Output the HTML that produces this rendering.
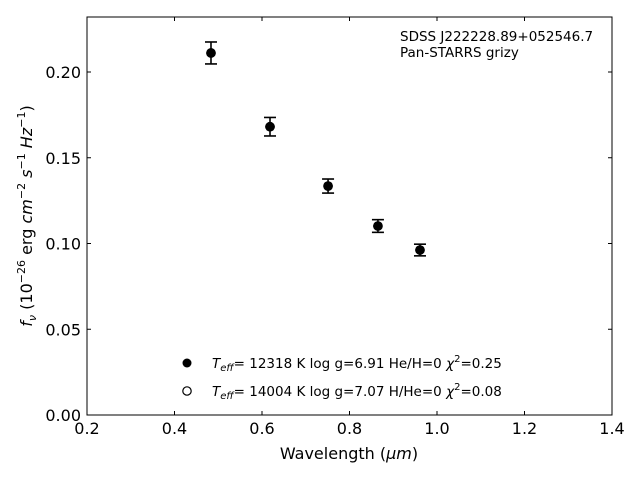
<!DOCTYPE html>
<html><head><meta charset="utf-8"><style>
body{margin:0;background:#fff}
svg{display:block;font-family:"DejaVu Sans","Liberation Sans",sans-serif}
</style></head><body>
<svg id="chart" width="640" height="480" viewBox="0 0 640 480" xmlns="http://www.w3.org/2000/svg">
<rect x="0" y="0" width="640" height="480" fill="#fff"/>
<g id="plot"></g>
<rect x="87" y="17" width="525" height="398" fill="none" stroke="#000" stroke-width="1"/>
<g id="xticks"></g>
<g id="yticks"></g>
<text x="349" y="459" font-size="16" text-anchor="middle">Wavelength (<tspan font-style="italic">μ</tspan><tspan font-style="italic">m</tspan>)</text>
<text transform="translate(32,216) rotate(-90)" font-size="16" text-anchor="middle"><tspan font-style="italic">f</tspan><tspan font-style="italic" font-size="11" dy="4">ν</tspan><tspan dy="-4"> (10</tspan><tspan font-size="11" dy="-7">−26</tspan><tspan dy="7"> erg </tspan><tspan font-style="italic">cm</tspan><tspan font-size="11" dy="-7">−2</tspan><tspan dy="7" font-style="italic"> s</tspan><tspan font-size="11" dy="-7">−1</tspan><tspan dy="7" font-style="italic"> Hz</tspan><tspan font-size="11" dy="-7">−1</tspan><tspan dy="7">)</tspan></text>
<text x="400" y="41" font-size="13.5">SDSS J222228.89+052546.7</text>
<text x="400" y="57" font-size="13.5">Pan-STARRS grizy</text>
<g>
<circle cx="187" cy="363" r="4.5" fill="#000"/>
<text x="212" y="368" font-size="13.5"><tspan font-style="italic">T</tspan><tspan font-style="italic" font-size="10" dy="3">eff</tspan><tspan dy="-3">= 12318 K  log g=6.91  He/H=0  </tspan><tspan font-style="italic">χ</tspan><tspan font-size="10" dy="-6">2</tspan><tspan dy="6">=0.25</tspan></text>
<circle cx="187" cy="391" r="4.2" fill="#fff" stroke="#000" stroke-width="1.2"/>
<text x="212" y="396" font-size="13.5"><tspan font-style="italic">T</tspan><tspan font-style="italic" font-size="10" dy="3">eff</tspan><tspan dy="-3">= 14004 K  log g=7.07  H/He=0  </tspan><tspan font-style="italic">χ</tspan><tspan font-size="10" dy="-6">2</tspan><tspan dy="6">=0.08</tspan></text>
</g>
</svg>
<script>
const wavelengths=[0.4834,0.6183,0.7510,0.8650,0.9611];
const fluxObs=[0.2111,0.1681,0.1335,0.1102,0.0962];
const fluxErr=[0.0064,0.0054,0.0041,0.0037,0.0034];
const fluxModel=[0.2111,0.1681,0.1335,0.1102,0.0962];
const xTickLabels=["0.2","0.4","0.6","0.8","1.0","1.2","1.4"];
const yTickLabels=["0.00","0.05","0.10","0.15","0.20"];
const NS="http://www.w3.org/2000/svg";
const X=v=>87+(v-0.2)*437.5;
const Y=v=>415-v*1715;
function mk(tag,attrs,parent){const e=document.createElementNS(NS,tag);for(const k in attrs)e.setAttribute(k,attrs[k]);parent.appendChild(e);return e;}
const xg=document.getElementById('xticks'),yg=document.getElementById('yticks'),pg=document.getElementById('plot');
xTickLabels.forEach(t=>{const x=X(parseFloat(t));
const a=mk('line',{x1:x,x2:x,y1:415,y2:411,stroke:'#000'},xg);


const b=mk('line',{x1:x,x2:x,y1:17,y2:21,stroke:'#000'},xg);


const l=mk('text',{x:x,y:434,'font-size':16,'text-anchor':'middle'},xg);l.textContent=t;

});
yTickLabels.forEach(t=>{const y=Y(parseFloat(t));
const a=mk('line',{x1:87,x2:91,y1:y,y2:y,stroke:'#000'},yg);


const b=mk('line',{x1:612,x2:608,y1:y,y2:y,stroke:'#000'},yg);


const l=mk('text',{x:81,y:y+6,'font-size':16,'text-anchor':'end'},yg);l.textContent=t;

});
wavelengths.forEach((w,i)=>{const x=X(w);
const m=mk('circle',{cx:x,cy:Y(fluxModel[i]),r:4.2,fill:'#fff',stroke:'#000','stroke-width':1.2},pg);


const y1=Y(fluxObs[i]+fluxErr[i]),y2=Y(fluxObs[i]-fluxErr[i]);
const g=mk('g',{stroke:'#000','stroke-width':1.6},pg);


mk('line',{x1:x,x2:x,y1:y1,y2:y2},g);
mk('line',{x1:x-6,x2:x+6,y1:y1,y2:y1},g);
mk('line',{x1:x-6,x2:x+6,y1:y2,y2:y2},g);
const c=mk('circle',{cx:x,cy:Y(fluxObs[i]),r:4.8,fill:'#000'},pg);

});
</script>
</body></html>
